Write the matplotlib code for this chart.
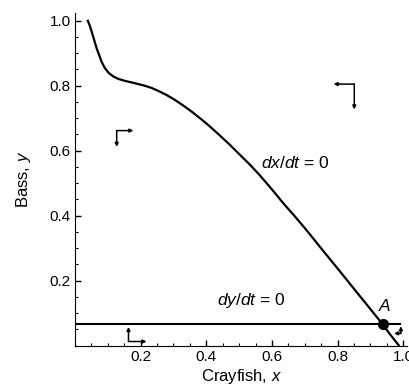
# Phase plane: crayfish vs bass nullclines
import matplotlib
matplotlib.use("Agg")
import matplotlib.pyplot as plt

plt.rcParams['font.family'] = 'Liberation Sans'
plt.rcParams['mathtext.fontset'] = 'custom'
plt.rcParams['mathtext.rm'] = 'Liberation Sans'
plt.rcParams['mathtext.it'] = 'Liberation Sans:italic'

# dx/dt = 0 nullcline
curve_x = [0.039, 0.045, 0.051, 0.058, 0.066, 0.074, 0.081, 0.090, 0.102, 0.116,
           0.132, 0.152, 0.173, 0.193, 0.213, 0.234, 0.254, 0.280, 0.305, 0.330,
           0.356, 0.381, 0.406, 0.437, 0.467, 0.500, 0.534, 0.560, 0.584, 0.610,
           0.635, 0.670, 0.706, 0.757, 0.808, 0.859, 0.900, 0.935, 0.960, 0.986]
curve_y = [1.000, 0.985, 0.966, 0.942, 0.915, 0.893, 0.874, 0.856, 0.840, 0.829,
           0.821, 0.815, 0.810, 0.805, 0.800, 0.793, 0.784, 0.771, 0.756, 0.739,
           0.720, 0.700, 0.679, 0.651, 0.623, 0.590, 0.556, 0.528, 0.500, 0.469,
           0.438, 0.398, 0.355, 0.291, 0.228, 0.164, 0.113, 0.069, 0.035, 0.002]

# dy/dt = 0 nullcline
y_null = 0.068
y_null_xmax = 0.991

# equilibrium A
eq_x, eq_y = 0.939, 0.067

# direction arrows: corner, horizontal end x, vertical end y
arrow_corner_x = [0.127, 0.851, 0.163, 0.993]
arrow_corner_y = [0.662, 0.805, 0.013, 0.038]
arrow_hx = [0.178, 0.788, 0.218, 0.972]
arrow_vy = [0.612, 0.727, 0.058, 0.060]

fig = plt.figure(figsize=(4.09, 3.92), dpi=100)
ax = fig.add_axes([0.1834, 0.118, 0.812, 0.849])

ax.plot(curve_x, curve_y, color='black', lw=1.6)
ax.plot([0, y_null_xmax], [y_null, y_null], color='black', lw=1.5)
ax.plot(eq_x, eq_y, 'o', color='black', ms=7)

for cx, cy, hx, vy in zip(arrow_corner_x, arrow_corner_y, arrow_hx, arrow_vy):
    ap = dict(arrowstyle='-|>', lw=1.1, color='black', mutation_scale=5,
              shrinkA=0, shrinkB=0)
    ax.annotate('', xy=(hx, cy), xytext=(cx, cy), arrowprops=ap)
    ax.annotate('', xy=(cx, vy), xytext=(cx, cy), arrowprops=ap)

ax.text(0.566, 0.562, r'$dx/dt$ = 0', fontsize=12.5, va='center', ha='left')
ax.text(0.537, 0.14, r'$dy/dt$ = 0', fontsize=12.5, va='center', ha='center')
ax.text(0.945, 0.122, r'$A$', fontsize=12.5, va='center', ha='center')

ax.set_xlim(0, 1.012)
ax.set_ylim(0, 1.024)
ax.spines['top'].set_visible(False)
ax.spines['right'].set_visible(False)
ax.set_xticks([0.2, 0.4, 0.6, 0.8, 1.0])
ax.set_yticks([0.2, 0.4, 0.6, 0.8, 1.0])
ax.set_xticklabels(['0.2', '0.4', '0.6', '0.8', '1.0'])
ax.set_yticklabels(['0.2', '0.4', '0.6', '0.8', '1.0'])
ax.set_xticks([i * 0.05 for i in range(21)], minor=True)
ax.set_yticks([i * 0.05 for i in range(21)], minor=True)
ax.tick_params(which='major', direction='in', length=4, width=1, labelsize=11, pad=3)
ax.tick_params(which='minor', direction='in', length=2.5, width=0.8)

ax.set_xlabel(r'Crayfish, $x$', fontsize=12, labelpad=2)
ax.set_ylabel(r'Bass, $y$', fontsize=12, labelpad=12)

fig.savefig('out.png', dpi=100)
